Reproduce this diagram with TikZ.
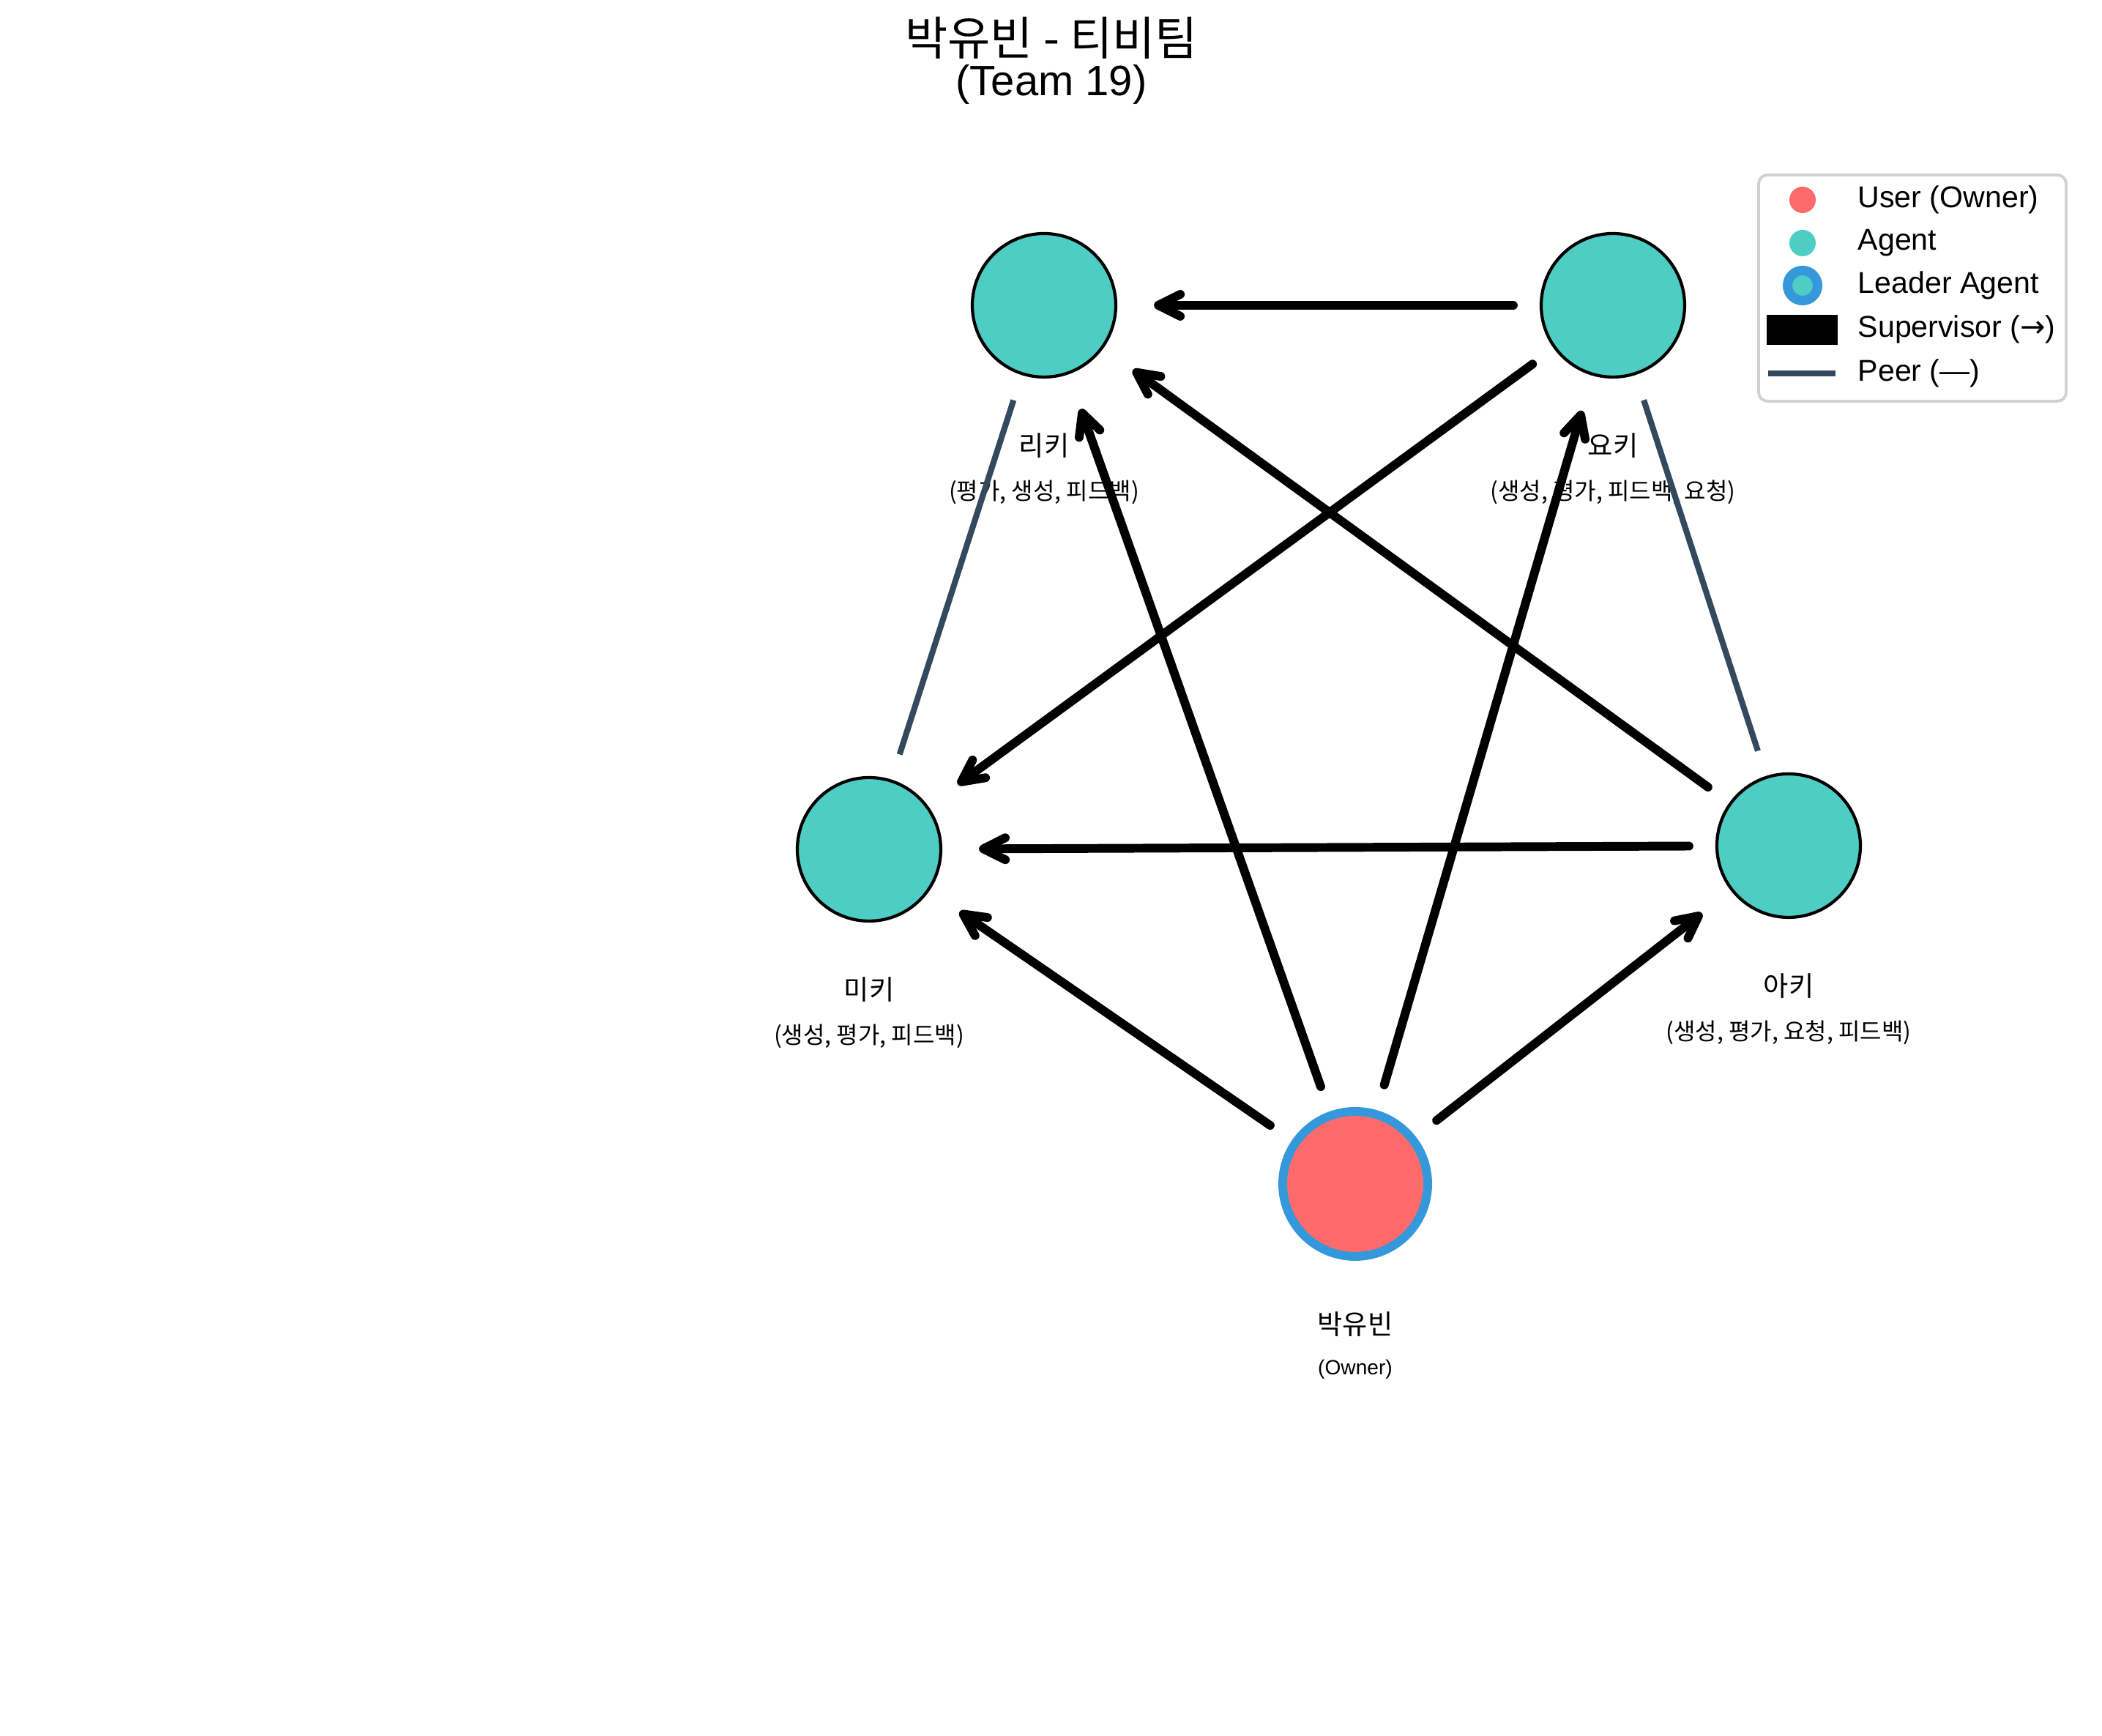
\documentclass[tikz,border=0pt]{standalone}
\usepackage{fontspec}
\setmainfont{Liberation Sans}
\newfontfamily\kr{Noto Sans CJK KR}
\newfontfamily\symb{DejaVu Sans}
\usetikzlibrary{arrows.meta}

\definecolor{ownerred}{HTML}{FF6B6B}
\definecolor{agentteal}{HTML}{4ECDC4}
\definecolor{leaderblue}{HTML}{3498DB}
\definecolor{peerslate}{HTML}{34495E}

\begin{document}
\begin{tikzpicture}[>={Straight Barb[length=0.3cm,width=0.3cm,round]},
  agent/.style={circle,draw=black,line width=1.2pt,fill=agentteal,minimum size=1.96cm,inner sep=0pt},
  owner/.style={circle,draw=leaderblue,line width=3.4pt,fill=ownerred,minimum size=1.98cm,inner sep=0pt},
  superarrow/.style={->,line width=3.4pt,line cap=round,shorten <=0.36cm,shorten >=0.5cm},
  peerline/.style={peerslate,line width=2.3pt,shorten <=0.36cm,shorten >=0.36cm},
  namelabel/.style={font=\kr\fontsize{10.6}{12}\selectfont},
  rolelabel/.style={font=\kr\fontsize{9.1}{11}\selectfont},
  legendtext/.style={anchor=west,inner sep=0pt,font=\fontsize{11.7}{14}\selectfont}]
\fill[white] (0,0) rectangle (28.71,23.71);
\useasboundingbox (0,0) rectangle (28.71,23.71);

% title
\node[font=\kr\fontsize{18}{20}\selectfont] (title) at (14.36,23.19) {박유빈 - 티비팀};
\node[font=\fontsize{16.5}{20}\selectfont] (subtitle) at (14.36,22.55) {(Team 19)};

% team members
\node[agent] (riki) at (14.26,19.54) {};
\node[agent] (yoki) at (22.03,19.54) {};
\node[agent] (miki) at (11.87,12.11) {};
\node[agent] (aki) at (24.43,12.16) {};
\node[owner] (yubin) at (18.51,7.54) {};

\node[namelabel] (riki-name) at ([yshift=-1.92cm]riki) {리키};
\node[rolelabel] (riki-role) at ([yshift=-2.55cm]riki) {(평가, 생성, 피드백)};
\node[namelabel] (yoki-name) at ([yshift=-1.92cm]yoki) {요키};
\node[rolelabel] (yoki-role) at ([yshift=-2.55cm]yoki) {(생성, 평가, 피드백, 요청)};
\node[namelabel] (miki-name) at ([yshift=-1.92cm]miki) {미키};
\node[rolelabel] (miki-role) at ([yshift=-2.55cm]miki) {(생성, 평가, 피드백)};
\node[namelabel] (aki-name) at ([yshift=-1.92cm]aki) {아키};
\node[rolelabel] (aki-role) at ([yshift=-2.55cm]aki) {(생성, 평가, 요청, 피드백)};
\node[namelabel] (yubin-name) at ([yshift=-1.92cm]yubin) {박유빈};
\node[font=\fontsize{8}{10}\selectfont] (yubin-role) at ([yshift=-2.53cm]yubin) {(Owner)};

% links
\draw[peerline] (riki) -- (miki);
\draw[peerline] (yoki) -- (aki);
\foreach \from/\to in {yoki/riki,yoki/miki,aki/riki,aki/miki,yubin/riki,yubin/yoki,yubin/miki,yubin/aki}
  \draw[superarrow] (\from) -- (\to);

% legend
\draw[gray!35,line width=1.1pt,rounded corners=0.12cm,fill=white] (24.02,18.23) rectangle (28.22,21.32);
\fill[ownerred] (24.62,20.98) circle (0.18);
\fill[agentteal] (24.62,20.39) circle (0.18);
\draw[leaderblue,line width=3.7pt,fill=agentteal] (24.62,19.81) circle (0.205);
\fill[black] (24.13,19.00) rectangle (25.10,19.41);
\draw[peerslate,line width=2.3pt] (24.15,18.61) -- (25.07,18.61);
\node[legendtext] (leg-user) at (25.37,20.98) {User (Owner)};
\node[legendtext] (leg-agent) at (25.37,20.39) {Agent};
\node[legendtext] (leg-leader) at (25.37,19.81) {Leader Agent};
\node[legendtext] (leg-super) at (25.37,19.21) {Supervisor ({\symb →})};
\node[legendtext] (leg-peer) at (25.37,18.61) {Peer (—)};
\end{tikzpicture}
\end{document}
